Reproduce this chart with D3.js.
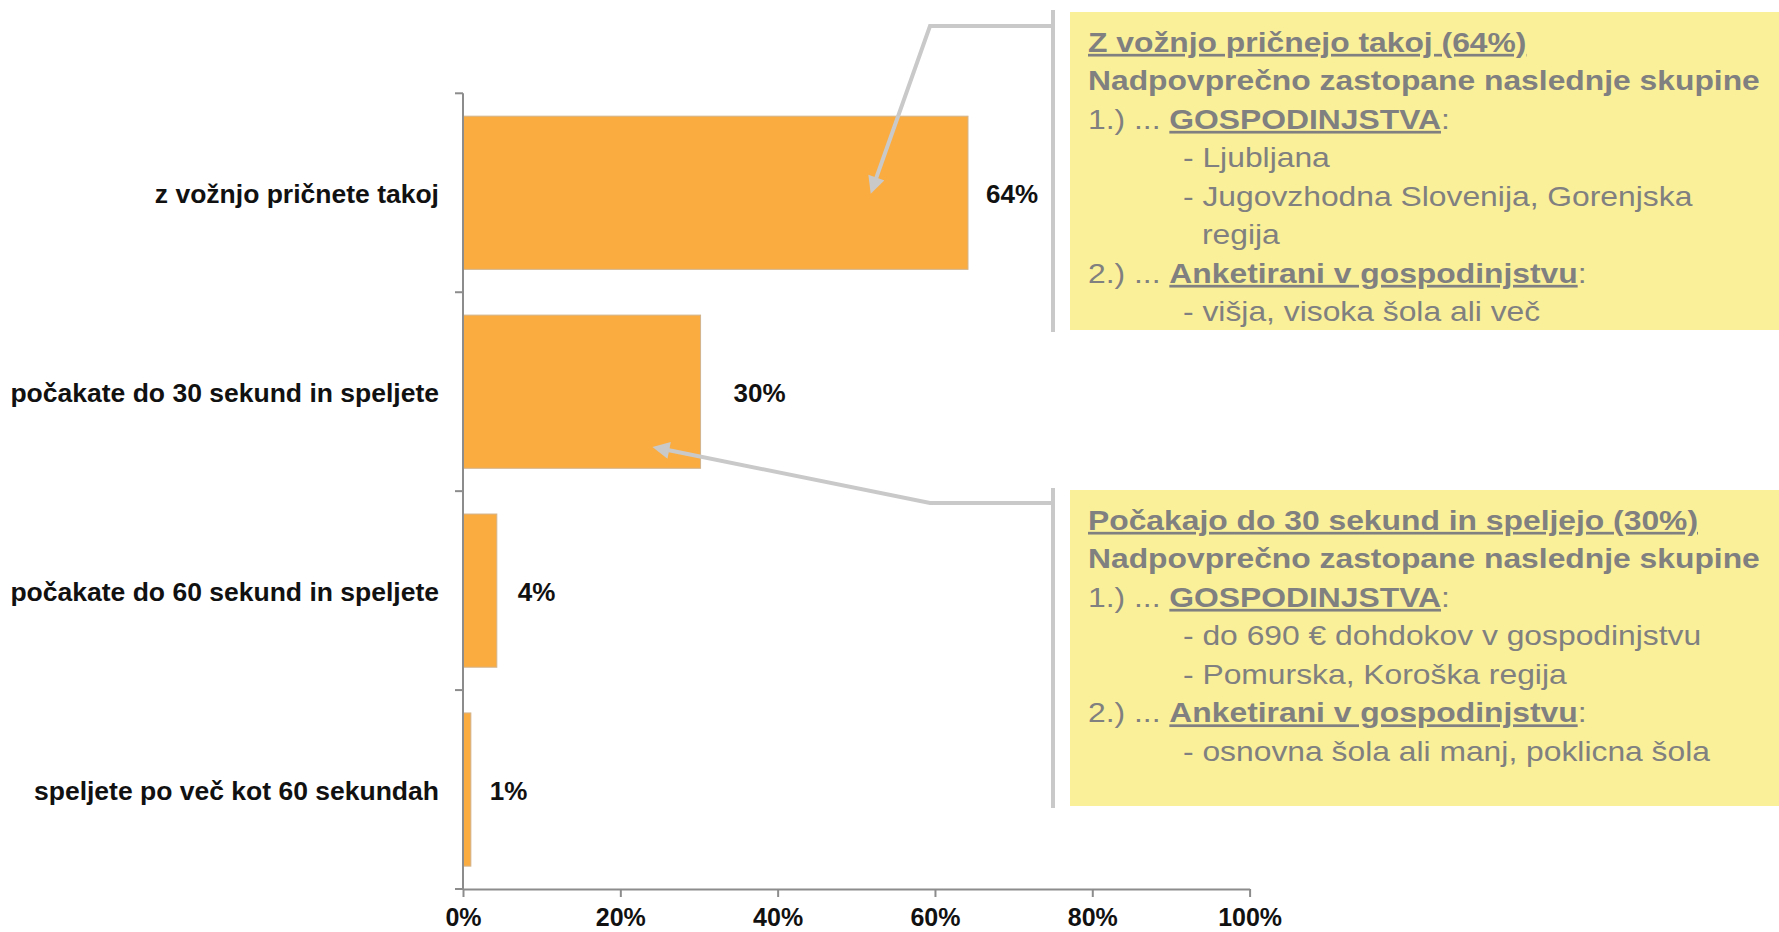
<!DOCTYPE html>
<html>
<head>
<meta charset="utf-8">
<script src="https://cdn.jsdelivr.net/npm/d3@7"></script>
<style>
  html, body { margin: 0; padding: 0; background: #ffffff; }
  svg { display: block; font-family: "Liberation Sans", Arial, sans-serif; }
  text { white-space: pre; }
</style>
</head>
<body>
<svg id="chart" width="1779" height="932"></svg>
<script>
// ---------- data ----------
const categories = [
  "z vožnjo pričnete takoj",
  "počakate do 30 sekund in speljete",
  "počakate do 60 sekund in speljete",
  "speljete po več kot 60 sekundah"
];
const values = [64.2, 30.2, 4.3, 1.0];
const valueLabels = ["64%", "30%", "4%", "1%"];
const xTicks = [0, 20, 40, 60, 80, 100];
const xTickLabels = ["0%", "20%", "40%", "60%", "80%", "100%"];

// callout texts: each line is a list of [text, style] segments (r = regular, b = bold, bu = bold underlined)
const callout1Lines = [
  [["Z vožnjo pričnejo takoj (64%)", "bu"]],
  [["Nadpovprečno zastopane naslednje skupine", "b"]],
  [["1.) ... ", "r"], ["GOSPODINJSTVA", "bu"], [":", "r"]],
  [["- Ljubljana", "r"]],
  [["- Jugovzhodna Slovenija, Gorenjska", "r"]],
  [["regija", "r"]],
  [["2.) ... ", "r"], ["Anketirani v gospodinjstvu", "bu"], [":", "r"]],
  [["- višja, visoka šola ali več", "r"]]
];
const callout1Indent = [0, 0, 0, 1, 1, 2, 0, 1];
const callout2Lines = [
  [["Počakajo do 30 sekund in speljejo (30%)", "bu"]],
  [["Nadpovprečno zastopane naslednje skupine", "b"]],
  [["1.) ... ", "r"], ["GOSPODINJSTVA", "bu"], [":", "r"]],
  [["- do 690 € dohdokov v gospodinjstvu", "r"]],
  [["- Pomurska, Koroška regija", "r"]],
  [["2.) ... ", "r"], ["Anketirani v gospodinjstvu", "bu"], [":", "r"]],
  [["- osnovna šola ali manj, poklicna šola", "r"]]
];
const callout2Indent = [0, 0, 0, 1, 1, 0, 1];
// which bar each callout points at, and where inside it (value, fraction of bar height)
const calloutTargets = [
  { cat: 0, at: 51.8, frac: 0.51 },
  { cat: 1, at: 24.0, frac: 0.86 }
];

// ---------- layout / style ----------
const svg = d3.select("#chart");
const barColor = "#FAAC41";
const axisColor = "#8c8c8c";
const calloutLine = "#c9c9c9";
const boxFill = "#FBF09A";
const boxText = "#808080";

const x = d3.scaleLinear().domain([0, 100]).range([463, 1249.6]);
const y = d3.scaleBand().domain(categories).range([93.3, 889]).paddingInner(0.23).paddingOuter(0.115);

// bars
svg.append("g").selectAll("rect").data(values).join("rect")
  .attr("x", x(0))
  .attr("y", (d, i) => y(categories[i]))
  .attr("width", d => x(d) - x(0))
  .attr("height", y.bandwidth())
  .attr("fill", barColor)
  .attr("stroke", "#d2b48c")
  .attr("stroke-width", 1);

// x axis
const xAxis = svg.append("g")
  .attr("transform", `translate(0,${y.range()[1]})`)
  .call(d3.axisBottom(x).tickValues(xTicks).tickFormat((d, i) => xTickLabels[i])
    .tickSize(8).tickSizeOuter(0).tickPadding(11));
xAxis.select(".domain").attr("stroke", axisColor).attr("stroke-width", 2);
xAxis.selectAll(".tick line").attr("stroke", axisColor).attr("stroke-width", 2);
xAxis.selectAll(".tick text").attr("fill", "#111").attr("font-size", 25).attr("font-weight", "bold")
  .attr("font-family", "Liberation Sans, Arial, sans-serif");

// y axis: labels at band centres, ticks at band boundaries
const yAxis = svg.append("g")
  .attr("transform", `translate(${x(0)},0)`)
  .call(d3.axisLeft(y).tickSize(0).tickPadding(24));
yAxis.select(".domain").remove();
yAxis.selectAll(".tick text").attr("fill", "#111").attr("font-size", 26.5).attr("font-weight", "bold")
  .attr("dy", "0.4em").attr("font-family", "Liberation Sans, Arial, sans-serif");
const boundaries = categories.map(c => y(c) - y.step() * y.paddingInner() / 2)
  .concat([y.range()[1]]);
boundaries[0] = y.range()[0];
svg.append("line").attr("x1", x(0)).attr("x2", x(0))
  .attr("y1", y.range()[0]).attr("y2", y.range()[1])
  .attr("stroke", axisColor).attr("stroke-width", 2);
svg.append("g").selectAll("line").data(boundaries).join("line")
  .attr("x1", x(0) - 8).attr("x2", x(0))
  .attr("y1", d => d).attr("y2", d => d)
  .attr("stroke", axisColor).attr("stroke-width", 2);

// value labels
const labelShift = [18, 33, 21, 19];
svg.append("g").selectAll("text").data(values).join("text")
  .attr("x", (d, i) => x(d) + labelShift[i])
  .attr("y", (d, i) => y(categories[i]) + y.bandwidth() / 2)
  .attr("dy", "0.4em")
  .attr("font-size", 26).attr("font-weight", "bold").attr("fill", "#111")
  .text((d, i) => valueLabels[i]);

// ---------- callouts ----------
const defs = svg.append("defs");
defs.append("marker").attr("id", "arrow")
  .attr("viewBox", "0 0 10 10").attr("refX", 3).attr("refY", 5)
  .attr("markerWidth", 18).attr("markerHeight", 17)
  .attr("markerUnits", "userSpaceOnUse").attr("orient", "auto")
  .append("path").attr("d", "M0,0 L10,5 L0,10 z").attr("fill", calloutLine);

function callout(lines, indents, boxTop, boxBottom, lineY, target) {
  // bracket + box
  svg.append("line").attr("x1", 1053).attr("x2", 1053)
    .attr("y1", boxTop - 2).attr("y2", boxBottom + 2)
    .attr("stroke", calloutLine).attr("stroke-width", 4);
  svg.append("rect").attr("x", 1070).attr("y", boxTop)
    .attr("width", 709).attr("height", boxBottom - boxTop)
    .attr("fill", boxFill);
  // leader with arrow
  const tx = x(target.at);
  const ty = y(categories[target.cat]) + y.bandwidth() * target.frac;
  const bx = 930, by = lineY;
  const dx = tx - bx, dy = ty - by, len = Math.hypot(dx, dy);
  const ex = tx - dx / len * 12.6, ey = ty - dy / len * 12.6;
  svg.append("path")
    .attr("d", `M1053,${lineY} L${bx},${by} L${ex},${ey}`)
    .attr("fill", "none").attr("stroke", calloutLine).attr("stroke-width", 4)
    .attr("marker-end", "url(#arrow)");
  // text
  const sx = 1.17, left = 1088;
  const g = svg.append("g").attr("transform", `translate(${left},0) scale(${sx},1)`);
  const indentX = [0, (1183 - left) / sx, (1202 - left) / sx];
  lines.forEach((segs, i) => {
    const t = g.append("text")
      .attr("x", indentX[indents[i]])
      .attr("y", boxTop + 40 + i * 38.5)
      .attr("font-size", 27.2).attr("fill", boxText);
    segs.forEach(([s, st]) => {
      const ts = t.append("tspan").text(s);
      if (st !== "r") ts.attr("font-weight", "bold");
      if (st === "bu") ts.attr("text-decoration", "underline");
    });
  });
}
callout(callout1Lines, callout1Indent, 12, 330, 26, calloutTargets[0]);
callout(callout2Lines, callout2Indent, 490, 806, 503, calloutTargets[1]);
</script>
</body>
</html>
